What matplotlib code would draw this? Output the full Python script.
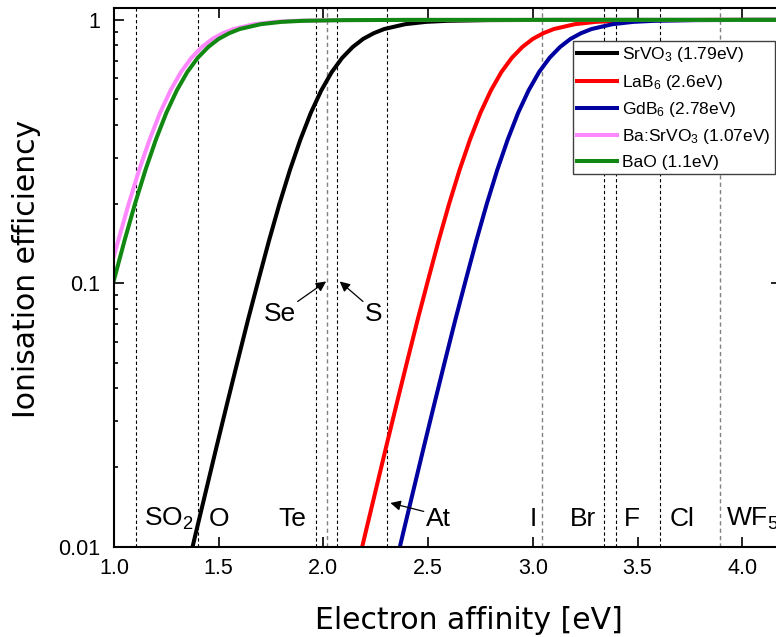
import numpy as np
import matplotlib
matplotlib.use('Agg')
import matplotlib.pyplot as plt
from matplotlib.ticker import LogLocator, NullFormatter, NullLocator

plt.rcParams['mathtext.fontset'] = 'custom'
plt.rcParams['mathtext.rm'] = 'Liberation Sans'
plt.rcParams['mathtext.default'] = 'rm'

# ionisation efficiency curves
srvo3_x = [1.34, 1.39, 1.44, 1.49, 1.54, 1.59, 1.64, 1.69, 1.74, 1.79, 1.84, 1.89, 1.94,
           1.99, 2.04, 2.09, 2.14, 2.19, 2.24, 2.29, 2.39, 2.49, 2.59, 2.79, 3.09, 4.20]
srvo3_y = [0.0076, 0.0112, 0.0164, 0.0240, 0.0349, 0.0505, 0.0727, 0.103, 0.145, 0.200,
           0.269, 0.351, 0.444, 0.540, 0.634, 0.718, 0.789, 0.847, 0.890, 0.923, 0.963,
           0.983, 0.992, 0.998, 1.0, 1.0]

lab6_x = [2.15, 2.20, 2.25, 2.30, 2.35, 2.40, 2.45, 2.50, 2.55, 2.60, 2.65, 2.70, 2.75,
          2.80, 2.85, 2.90, 2.95, 3.00, 3.05, 3.10, 3.20, 3.30, 3.40, 3.60, 3.90, 4.20]
lab6_y = [0.0076, 0.0112, 0.0164, 0.0240, 0.0349, 0.0505, 0.0727, 0.103, 0.145, 0.200,
          0.269, 0.351, 0.444, 0.540, 0.634, 0.718, 0.789, 0.847, 0.890, 0.923, 0.963,
          0.983, 0.992, 0.998, 1.0, 1.0]

gdb6_x = [2.33, 2.38, 2.43, 2.48, 2.53, 2.58, 2.63, 2.68, 2.73, 2.78, 2.83, 2.88, 2.93,
          2.98, 3.03, 3.08, 3.13, 3.18, 3.23, 3.28, 3.38, 3.48, 3.58, 3.78, 4.08, 4.20]
gdb6_y = [0.0076, 0.0112, 0.0164, 0.0240, 0.0349, 0.0505, 0.0727, 0.103, 0.145, 0.200,
          0.269, 0.351, 0.444, 0.540, 0.634, 0.718, 0.789, 0.847, 0.890, 0.923, 0.963,
          0.983, 0.992, 0.998, 1.0, 1.0]

basrvo3_x = [1.00, 1.02, 1.07, 1.12, 1.17, 1.22, 1.27, 1.32, 1.37, 1.42, 1.47, 1.52, 1.57,
             1.67, 1.77, 1.87, 2.07, 2.37, 4.20]
basrvo3_y = [0.127, 0.145, 0.200, 0.269, 0.351, 0.444, 0.540, 0.634, 0.718, 0.789, 0.847,
             0.890, 0.923, 0.963, 0.983, 0.992, 0.998, 1.0, 1.0]

bao_x = [1.00, 1.05, 1.10, 1.15, 1.20, 1.25, 1.30, 1.35, 1.40, 1.45, 1.50, 1.55, 1.60,
         1.70, 1.80, 1.90, 2.10, 2.40, 4.20]
bao_y = [0.103, 0.145, 0.200, 0.269, 0.351, 0.444, 0.540, 0.634, 0.718, 0.789, 0.847,
         0.890, 0.923, 0.963, 0.983, 0.992, 0.998, 1.0, 1.0]

# electron affinities of the species (dashed lines)
ea_black = [1.103, 1.400, 1.965, 2.065, 2.302, 3.340, 3.397, 3.605]
ea_grey = [2.018, 3.044, 3.895]

species = ['SO$_2$', 'O', 'Te', 'At', 'I', 'Br', 'F', 'Cl', 'WF$_5$']
species_x = [1.141, 1.453, 1.787, 2.492, 2.985, 3.179, 3.433, 3.653, 3.924]

xticks = [1.0, 1.5, 2.0, 2.5, 3.0, 3.5, 4.0]
xtick_labels = ['1.0', '1.5', '2.0', '2.5', '3.0', '3.5', '4.0']
yticks = [0.01, 0.1, 1]
ytick_labels = ['0.01', '0.1', '1']

fig = plt.figure(figsize=(7.76, 6.37), dpi=100)
ax = fig.add_axes([0.1469, 0.1418, 0.8595, 0.8457])

for e in ea_black:
    ax.axvline(e, color='black', lw=0.8, ls=(0, (3, 2.3)), zorder=1)
for e in ea_grey:
    ax.axvline(e, color='#808080', lw=1.0, ls=(0, (3, 2.3)), zorder=1)

lw = 2.9
ax.plot(srvo3_x, srvo3_y, color='black', lw=lw, label=r'SrVO$_3$ (1.79eV)', zorder=2)
ax.plot(lab6_x, lab6_y, color='#ff0000', lw=lw, label=r'LaB$_6$ (2.6eV)', zorder=2)
ax.plot(gdb6_x, gdb6_y, color='#0000a0', lw=lw, label=r'GdB$_6$ (2.78eV)', zorder=2)
ax.plot(basrvo3_x, basrvo3_y, color='#ff88ff', lw=lw, label=r'Ba:SrVO$_3$ (1.07eV)', zorder=2)
ax.plot(bao_x, bao_y, color='#118811', lw=lw, label='BaO (1.1eV)', zorder=2)

ax.set_yscale('log')
ax.set_xlim(1.0, 4.185)
ax.set_ylim(0.01, 1.11)

ax.set_xticks(xticks)
ax.set_xticklabels(xtick_labels, fontfamily='Liberation Sans', fontsize=15.5)
ax.xaxis.set_minor_locator(NullLocator())
ax.set_yticks(yticks)
ax.set_yticklabels(ytick_labels, fontfamily='Liberation Sans', fontsize=15.5)
ax.yaxis.set_minor_locator(LogLocator(base=10, subs=np.arange(2, 10)))
ax.yaxis.set_minor_formatter(NullFormatter())
ax.tick_params(which='both', direction='in', top=True, right=True, width=1.2)
ax.tick_params(which='major', length=7.2)
ax.tick_params(axis='x', which='major', pad=8)
ax.tick_params(axis='y', which='major', pad=10)
ax.tick_params(which='minor', length=3.2)
for s in ax.spines.values():
    s.set_linewidth(1.5)

# species labels along the bottom
for name, x in zip(species, species_x):
    ax.text(x, 0.0120, name, fontfamily='Liberation Sans', fontsize=19, va='baseline', ha='left')

ax.text(1.715, 0.0721, 'Se', fontfamily='Liberation Sans', fontsize=19, va='baseline')
ax.text(2.197, 0.0721, 'S', fontfamily='Liberation Sans', fontsize=19, va='baseline')

arrow = dict(arrowstyle='-|>', color='black', lw=0.9, shrinkA=0, shrinkB=0, mutation_scale=15)
ax.annotate('', xy=(2.013, 0.1016), xytext=(1.877, 0.0853), arrowprops=arrow)
ax.annotate('', xy=(2.078, 0.1016), xytext=(2.189, 0.0853), arrowprops=arrow)
ax.annotate('', xy=(2.320, 0.01465), xytext=(2.479, 0.01361), arrowprops=arrow)

leg = ax.legend(loc='upper left', bbox_to_anchor=(573 / 776, 1 - 41 / 637),
                bbox_transform=fig.transFigure,
                prop={'family': 'Liberation Sans', 'size': 12.5},
                frameon=True, fancybox=False, edgecolor='#404040', framealpha=1,
                borderpad=0.25, handlelength=2.3, handletextpad=0.3,
                labelspacing=0.48, borderaxespad=0)
leg.get_frame().set_linewidth(1.0)

fig.text(468.7 / 776, (637 - 629) / 637, 'Electron affinity [eV]',
         ha='center', va='baseline', fontsize=21.5)
fig.text(27 / 776, 1 - 269 / 637, 'Ionisation efficiency',
         rotation=90, ha='center', va='center', fontsize=21.5)

fig.savefig('out.png', dpi=100)
